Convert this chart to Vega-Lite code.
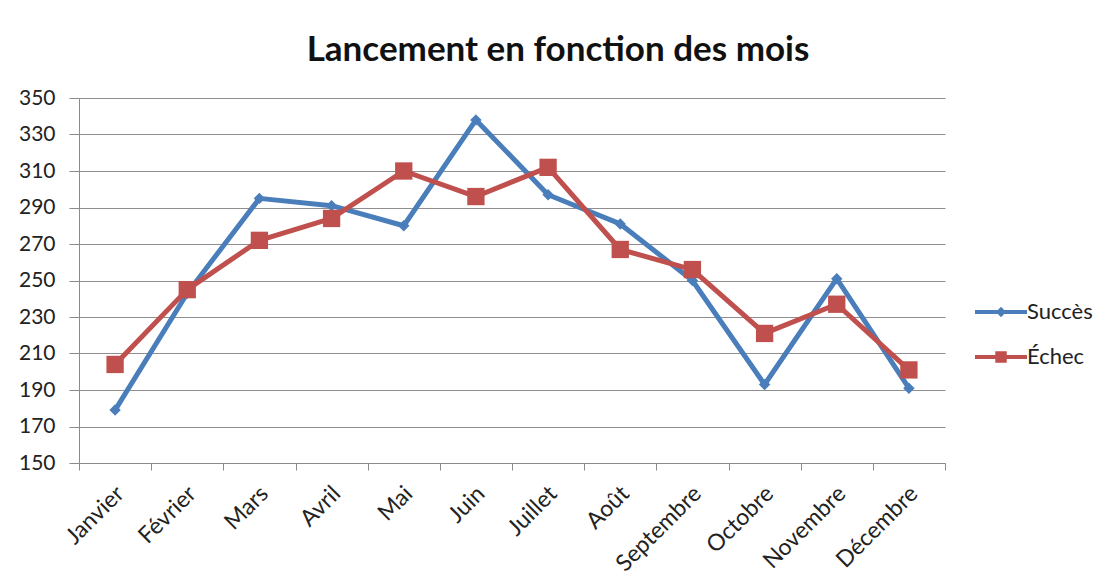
{
  "$schema": "https://vega.github.io/schema/vega-lite/v6.json",
  "width": 866,
  "height": 365,
  "autosize": {"type": "none"},
  "padding": {"left": 79, "top": 98, "right": 157, "bottom": 124},
  "background": "white",
  "title": {
    "text": "Lancement en fonction des mois",
    "font": "Lato",
    "fontSize": 35,
    "fontWeight": "bold",
    "color": "#111111",
    "anchor": "middle",
    "baseline": "alphabetic",
    "dx": 46,
    "offset": -9
  },
  "config": {
    "font": "Lato",
    "view": {"stroke": null},
    "axis": {
      "labelFont": "Lato",
      "labelColor": "#222222",
      "domainColor": "#8a8a8a",
      "tickColor": "#8a8a8a",
      "gridColor": "#8f8f8f",
      "gridOpacity": 1
    }
  },
  "data": {
    "values": [
      {"mois": "Janvier", "serie": "Succès", "valeur": 179},
      {"mois": "Février", "serie": "Succès", "valeur": 243},
      {"mois": "Mars", "serie": "Succès", "valeur": 295},
      {"mois": "Avril", "serie": "Succès", "valeur": 291},
      {"mois": "Mai", "serie": "Succès", "valeur": 280},
      {"mois": "Juin", "serie": "Succès", "valeur": 338},
      {"mois": "Juillet", "serie": "Succès", "valeur": 297},
      {"mois": "Août", "serie": "Succès", "valeur": 281},
      {"mois": "Septembre", "serie": "Succès", "valeur": 250},
      {"mois": "Octobre", "serie": "Succès", "valeur": 193},
      {"mois": "Novembre", "serie": "Succès", "valeur": 251},
      {"mois": "Décembre", "serie": "Succès", "valeur": 191},
      {"mois": "Janvier", "serie": "Échec", "valeur": 204},
      {"mois": "Février", "serie": "Échec", "valeur": 245},
      {"mois": "Mars", "serie": "Échec", "valeur": 272},
      {"mois": "Avril", "serie": "Échec", "valeur": 284},
      {"mois": "Mai", "serie": "Échec", "valeur": 310},
      {"mois": "Juin", "serie": "Échec", "valeur": 296},
      {"mois": "Juillet", "serie": "Échec", "valeur": 312},
      {"mois": "Août", "serie": "Échec", "valeur": 267},
      {"mois": "Septembre", "serie": "Échec", "valeur": 256},
      {"mois": "Octobre", "serie": "Échec", "valeur": 221},
      {"mois": "Novembre", "serie": "Échec", "valeur": 237},
      {"mois": "Décembre", "serie": "Échec", "valeur": 201}
    ]
  },
  "encoding": {
    "x": {
      "field": "mois",
      "type": "nominal",
      "sort": ["Janvier", "Février", "Mars", "Avril", "Mai", "Juin", "Juillet", "Août", "Septembre", "Octobre", "Novembre", "Décembre"],
      "scale": {"type": "band", "paddingInner": 0, "paddingOuter": 0},
      "axis": {"title": null, "labelAngle": -45, "labelFontSize": 23, "tickBand": "extent", "grid": false, "tickSize": 7, "labelPadding": 12, "labelOffset": -3}
    },
    "y": {
      "field": "valeur",
      "type": "quantitative",
      "scale": {"domain": [150, 350], "nice": false, "zero": false},
      "axis": {"title": null, "values": [150, 170, 190, 210, 230, 250, 270, 290, 310, 330, 350], "grid": true, "labelFontSize": 21, "tickSize": 10, "labelPadding": 14, "domain": true}
    },
    "color": {
      "field": "serie",
      "type": "nominal",
      "scale": {"domain": ["Succès", "Échec"], "range": ["#4a7ebb", "#c0504d"]},
      "legend": {
        "title": null,
        "orient": "none",
        "legendX": 896,
        "legendY": 188,
        "symbolType": "M-1,-0.08H1V0.08H-1Z M-0.22,-0.22H0.22V0.22H-0.22Z",
        "symbolSize": 2704,
        "symbolStrokeWidth": 0,
        "symbolOpacity": 1,
        "labelFont": "Lato",
        "labelFontSize": 22,
        "labelColor": "#222222",
        "labelOffset": 0,
        "rowPadding": 8,
        "encode": {
          "symbols": {
            "update": {
              "shape": {"signal": "datum.value === 'Succès' ? 'M-1,-0.08H1V0.08H-1Z M0,-0.2L0.2,0L0,0.2L-0.2,0Z' : 'M-1,-0.08H1V0.08H-1Z M-0.22,-0.22H0.22V0.22H-0.22Z'"},
              "fill": {"signal": "datum.value === 'Succès' ? '#4a7ebb' : '#c0504d'"},
              "fillOpacity": {"value": 1},
              "strokeWidth": {"value": 0}
            }
          }
        }
      }
    }
  },
  "layer": [
    {
      "mark": {"type": "line", "strokeWidth": 5, "strokeJoin": "round"}
    },
    {
      "transform": [{"filter": "datum.serie === 'Succès'"}],
      "mark": {"type": "point", "filled": true, "opacity": 1, "shape": "diamond", "size": 130}
    },
    {
      "transform": [{"filter": "datum.serie === 'Échec'"}],
      "mark": {"type": "point", "filled": true, "opacity": 1, "shape": "square", "size": 300}
    }
  ]
}
